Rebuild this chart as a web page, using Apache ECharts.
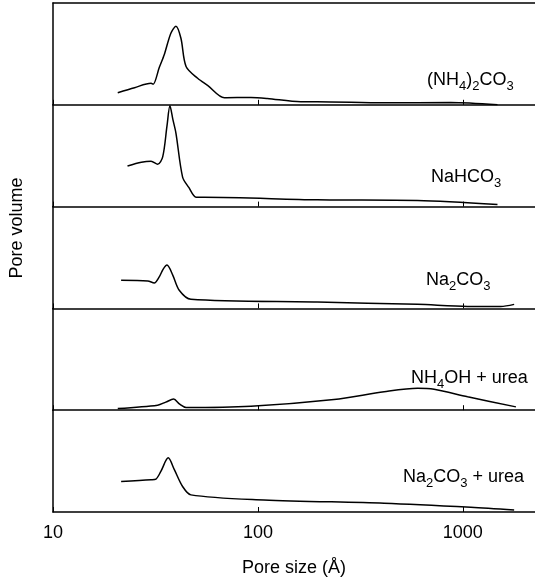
<!DOCTYPE html>
<html>
<head>
<meta charset="utf-8">
<script src="https://cdn.jsdelivr.net/npm/echarts@6/dist/echarts.min.js"></script>
<style>
  html, body { margin: 0; padding: 0; background: #fff; }
  #main { width: 535px; height: 581px; }
</style>
</head>
<body>
<div id="main"></div>
<script>
// sample names, top to bottom
const sampleNames = ['(NH4)2CO3', 'NaHCO3', 'Na2CO3', 'NH4OH + urea', 'Na2CO3 + urea'];

// pore size (Å) and pore volume (arb. units) for each curve
const sizeA = [20.7, 25, 30.1, 30.8, 33, 34.9, 37.6, 39.8, 42.1, 44.6, 50.8, 57, 68.6, 92.5, 111, 162, 195, 412, 873, 1476];
const volA  = [12, 17, 21.3, 20.3, 37, 49.7, 71, 78, 66, 38, 26.3, 19, 7, 7.3, 6.3, 3, 3, 2, 2.3, 0];

const sizeB = [23.1, 27, 30.1, 32.4, 34.3, 36, 37.2, 38.5, 39.8, 42.9, 46, 49.9, 54.7, 195, 601, 1476];
const volB  = [40.3, 44, 45, 42, 49.3, 80, 100, 86, 73, 29.3, 19, 9.3, 9.3, 6.7, 6, 2];

const sizeC = [21.5, 29, 31.2, 33, 34.5, 36, 38.4, 41.3, 47.1, 195, 601, 1055, 1531, 1780];
const volC  = [28, 27.3, 25.3, 31.3, 39, 43, 33, 18, 9, 6.3, 4, 2, 2, 4];

const sizeD = [20.7, 32.4, 35.5, 38.8, 41.5, 44.6, 92.5, 235, 413, 601, 724, 1055, 1816];
const volD  = [1.7, 5, 8, 11, 6, 2.7, 4, 10.7, 18.3, 21.7, 20.7, 13.3, 3.3];

const sizeE = [21.5, 30.1, 31.8, 33.6, 36.5, 39.1, 42.9, 47.1, 107, 413, 1094, 1780];
const volE  = [30.3, 32, 32.7, 40.3, 53.7, 42, 25.3, 17, 12, 8.7, 4.7, 2];

const allSizes = [sizeA, sizeB, sizeC, sizeD, sizeE];
const allVols = [volA, volB, volC, volD, volE];

const FONT = '"Liberation Sans", Arial, Helvetica, sans-serif';
const PanelTop = 3;
const PanelHeight = 101.8;
const labelPos = [[427, 82], [431, 179], [426, 282], [411, 380], [403, 479]];

var chart = echarts.init(document.getElementById('main'));

function pairs(xs, ys) {
  var out = [];
  for (var i = 0; i < xs.length; i++) {
    out.push([xs[i], ys[i]]);
  }
  return out;
}

// digits in the formulas are subscripts
function chemText(name) {
  return name.replace(/\d|[^\d]+/g, function (m) {
    return /\d/.test(m) ? '{s|' + m + '}' : '{n|' + m + '}';
  });
}

var grids = [], xAxes = [], yAxes = [], series = [], graphics = [];

for (var i = 0; i < 5; i++) {
  var last = i == 4;
  grids.push({
    left: 53,
    right: 0,
    top: PanelTop + PanelHeight * i,
    height: PanelHeight
  });
  xAxes.push({
    type: 'log',
    gridIndex: i,
    min: 10,
    max: 2250,
    logBase: 10,
    axisLine: { lineStyle: { color: '#000', width: 1.5 } },
    axisTick: { show: true, inside: true, length: 5, lineStyle: { color: '#000' } },
    axisLabel: {
      show: last,
      margin: 12,
      fontSize: 18,
      fontFamily: FONT,
      color: '#000',
      showMaxLabel: false,
      formatter: function (v) { return String(Math.round(v)); }
    },
    splitLine: { show: false },
    minorTick: { show: false },
    name: last ? 'Pore size (Å)' : '',
    nameLocation: 'middle',
    nameGap: 47,
    nameTextStyle: { fontSize: 18, fontFamily: FONT, color: '#000' }
  });
  yAxes.push({
    type: 'value',
    gridIndex: i,
    min: 0,
    max: 101,
    axisLine: { show: true, lineStyle: { color: '#000', width: 1.5 } },
    axisTick: { show: false },
    axisLabel: { show: false },
    splitLine: { show: false }
  });
  series.push({
    type: 'line',
    name: sampleNames[i],
    xAxisIndex: i,
    yAxisIndex: i,
    data: pairs(allSizes[i], allVols[i]),
    smooth: 0.3,
    symbol: 'none',
    lineStyle: { color: '#000', width: 1.5 }
  });
  graphics.push({
    type: 'text',
    x: labelPos[i][0],
    y: labelPos[i][1],
    style: {
      text: chemText(sampleNames[i]),
      fill: '#000',
      verticalAlign: 'middle',
      rich: {
        n: { fontSize: 18, fontFamily: FONT, fill: '#000', verticalAlign: 'bottom', padding: [0, 0, 4, 0] },
        s: { fontSize: 13, fontFamily: FONT, fill: '#000', verticalAlign: 'bottom' }
      }
    }
  });
}

// top border of the first panel
xAxes.push({
  type: 'log',
  gridIndex: 0,
  position: 'top',
  min: 10,
  max: 2250,
  axisLine: { lineStyle: { color: '#000', width: 1.5 } },
  axisTick: { show: false },
  axisLabel: { show: false },
  splitLine: { show: false }
});

graphics.push({
  type: 'text',
  x: 17,
  y: 228,
  rotation: Math.PI / 2,
  style: {
    text: 'Pore volume',
    fontSize: 18,
    fontFamily: FONT,
    fill: '#000',
    align: 'center',
    verticalAlign: 'middle'
  }
});

chart.setOption({
  backgroundColor: '#fff',
  animation: false,
  grid: grids,
  xAxis: xAxes,
  yAxis: yAxes,
  series: series,
  graphic: graphics
});
</script>
</body>
</html>
